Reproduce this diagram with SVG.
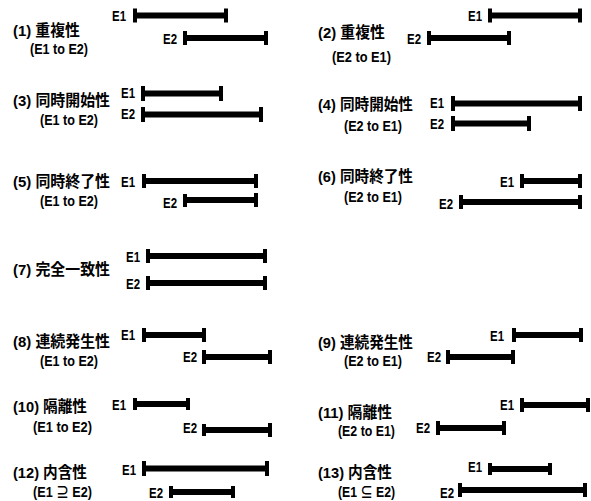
<svg xmlns="http://www.w3.org/2000/svg" width="591" height="501" viewBox="0 0 591 501">
<style>
text{font-family:"Liberation Sans","Noto Sans CJK JP",sans-serif;font-weight:bold;fill:#000}
.t{font-size:15.5px}
.s{font-size:14px}
.e{font-size:15px}
.bar{stroke:#000;stroke-width:6;fill:none}
.cap{stroke:#000;stroke-width:4;fill:none}
</style>
<rect width="591" height="501" fill="#fff"/>
<g id="n1">
<text class="t" x="13" y="35.5" textLength="67" lengthAdjust="spacingAndGlyphs">(1) 重複性</text><text class="s" x="30" y="54" textLength="58" lengthAdjust="spacingAndGlyphs">(E1 to E2)</text>
<text class="e" x="112" y="21" textLength="14" lengthAdjust="spacingAndGlyphs">E1</text><text class="e" x="163" y="43.5" textLength="14" lengthAdjust="spacingAndGlyphs">E2</text>
<path class="bar" d="M133 15.5H228M183 38H268"/>
<path class="cap" d="M135 8.5V22.5M226 8.5V22.5M185 31V45M266 31V45"/>
</g>
<g id="n2">
<text class="t" x="318" y="38" textLength="67" lengthAdjust="spacingAndGlyphs">(2) 重複性</text><text class="s" x="332" y="62" textLength="59" lengthAdjust="spacingAndGlyphs">(E2 to E1)</text>
<text class="e" x="468" y="21" textLength="14" lengthAdjust="spacingAndGlyphs">E1</text><text class="e" x="407" y="43.5" textLength="14" lengthAdjust="spacingAndGlyphs">E2</text>
<path class="bar" d="M488 15.5H582M427 38H511"/>
<path class="cap" d="M490 8.5V22.5M580 8.5V22.5M429 31V45M509 31V45"/>
</g>
<g id="n3">
<text class="t" x="13" y="106" textLength="97" lengthAdjust="spacingAndGlyphs">(3) 同時開始性</text><text class="s" x="40" y="125" textLength="58" lengthAdjust="spacingAndGlyphs">(E1 to E2)</text>
<text class="e" x="121" y="98" textLength="14" lengthAdjust="spacingAndGlyphs">E1</text><text class="e" x="121" y="119" textLength="14" lengthAdjust="spacingAndGlyphs">E2</text>
<path class="bar" d="M141 93.5H223M141 114.5H263"/>
<path class="cap" d="M143 86V101M221 86V101M143 107V122M261 107V122"/>
</g>
<g id="n4">
<text class="t" x="318" y="110" textLength="95" lengthAdjust="spacingAndGlyphs">(4) 同時開始性</text><text class="s" x="344" y="131" textLength="58" lengthAdjust="spacingAndGlyphs">(E2 to E1)</text>
<text class="e" x="430" y="108" textLength="14" lengthAdjust="spacingAndGlyphs">E1</text><text class="e" x="430" y="129" textLength="14" lengthAdjust="spacingAndGlyphs">E2</text>
<path class="bar" d="M451 103.5H582M451 123.5H531"/>
<path class="cap" d="M453 96V111M580 96V111M453 116V131M529 116V131"/>
</g>
<g id="n5">
<text class="t" x="13" y="187" textLength="97" lengthAdjust="spacingAndGlyphs">(5) 同時終了性</text><text class="s" x="40" y="206" textLength="58" lengthAdjust="spacingAndGlyphs">(E1 to E2)</text>
<text class="e" x="121" y="187" textLength="14" lengthAdjust="spacingAndGlyphs">E1</text><text class="e" x="163" y="208" textLength="14" lengthAdjust="spacingAndGlyphs">E2</text>
<path class="bar" d="M142 181H258M183 200H258"/>
<path class="cap" d="M144 174V188M256 174V188M185 194V207M256 193V207"/>
</g>
<g id="n6">
<text class="t" x="318" y="182" textLength="95" lengthAdjust="spacingAndGlyphs">(6) 同時終了性</text><text class="s" x="344" y="202" textLength="58" lengthAdjust="spacingAndGlyphs">(E2 to E1)</text>
<text class="e" x="500" y="187" textLength="14" lengthAdjust="spacingAndGlyphs">E1</text><text class="e" x="439" y="209" textLength="14" lengthAdjust="spacingAndGlyphs">E2</text>
<path class="bar" d="M520 181H582M459 202H582"/>
<path class="cap" d="M522 174V188M580 174V188M461 195V209M580 195V209"/>
</g>
<g id="n7">
<text class="t" x="13" y="275" textLength="97" lengthAdjust="spacingAndGlyphs">(7) 完全一致性</text>
<text class="e" x="126" y="262" textLength="14" lengthAdjust="spacingAndGlyphs">E1</text><text class="e" x="126" y="289" textLength="14" lengthAdjust="spacingAndGlyphs">E2</text>
<path class="bar" d="M146 256H267M146 283H267"/>
<path class="cap" d="M148 249V263M265 249V263M148 276V290M265 276V290"/>
</g>
<g id="n8">
<text class="t" x="13" y="347" textLength="97" lengthAdjust="spacingAndGlyphs">(8) 連続発生性</text><text class="s" x="40" y="366" textLength="58" lengthAdjust="spacingAndGlyphs">(E1 to E2)</text>
<text class="e" x="121" y="340" textLength="14" lengthAdjust="spacingAndGlyphs">E1</text><text class="e" x="183" y="362" textLength="14" lengthAdjust="spacingAndGlyphs">E2</text>
<path class="bar" d="M142 335H206M202 357H272"/>
<path class="cap" d="M144 328V342M204 328V342M204 350V364M270 350V364"/>
</g>
<g id="n9">
<text class="t" x="318" y="348" textLength="95" lengthAdjust="spacingAndGlyphs">(9) 連続発生性</text><text class="s" x="344" y="366" textLength="58" lengthAdjust="spacingAndGlyphs">(E2 to E1)</text>
<text class="e" x="490" y="341" textLength="14" lengthAdjust="spacingAndGlyphs">E1</text><text class="e" x="427" y="362" textLength="14" lengthAdjust="spacingAndGlyphs">E2</text>
<path class="bar" d="M512 335H583M446 357H515"/>
<path class="cap" d="M514 328V342M581 328V342M448 350V364M513 350V364"/>
</g>
<g id="n10">
<text class="t" x="13" y="412" textLength="74" lengthAdjust="spacingAndGlyphs">(10) 隔離性</text><text class="s" x="33" y="432" textLength="59" lengthAdjust="spacingAndGlyphs">(E1 to E2)</text>
<text class="e" x="112" y="410" textLength="14" lengthAdjust="spacingAndGlyphs">E1</text><text class="e" x="183" y="433" textLength="14" lengthAdjust="spacingAndGlyphs">E2</text>
<path class="bar" d="M133 404H190M202 430H272"/>
<path class="cap" d="M135 398V410M188 398V410M204 424V436M270 423V437"/>
</g>
<g id="n11">
<text class="t" x="318" y="418" textLength="74" lengthAdjust="spacingAndGlyphs">(11) 隔離性</text><text class="s" x="338" y="436" textLength="57" lengthAdjust="spacingAndGlyphs">(E2 to E1)</text>
<text class="e" x="500" y="410" textLength="14" lengthAdjust="spacingAndGlyphs">E1</text><text class="e" x="416" y="433" textLength="14" lengthAdjust="spacingAndGlyphs">E2</text>
<path class="bar" d="M520 405H590M436 428H506"/>
<path class="cap" d="M522 398V412M588 398V412M438 421V435M504 421V435"/>
</g>
<g id="n12">
<text class="t" x="13" y="478" textLength="74" lengthAdjust="spacingAndGlyphs">(12) 内含性</text><text class="s" x="33" y="497" textLength="59" lengthAdjust="spacingAndGlyphs">(E1 ⊇ E2)</text>
<text class="e" x="122" y="475" textLength="14" lengthAdjust="spacingAndGlyphs">E1</text><text class="e" x="149" y="498" textLength="14" lengthAdjust="spacingAndGlyphs">E2</text>
<path class="bar" d="M142 468.5H269M169 492H235"/>
<path class="cap" d="M144 461V476M267 461V476M171 486V498M233 486V498"/>
</g>
<g id="n13">
<text class="t" x="318" y="478" textLength="74" lengthAdjust="spacingAndGlyphs">(13) 内含性</text><text class="s" x="338" y="497" textLength="57" lengthAdjust="spacingAndGlyphs">(E1 ⊆ E2)</text>
<text class="e" x="468" y="472" textLength="14" lengthAdjust="spacingAndGlyphs">E1</text><text class="e" x="440" y="498" textLength="14" lengthAdjust="spacingAndGlyphs">E2</text>
<path class="bar" d="M488 469H552M458 490H587"/>
<path class="cap" d="M490 463V475M550 463V475M460 483V497M585 483V497"/>
</g>
<g id="connectors"></g>
</svg>
